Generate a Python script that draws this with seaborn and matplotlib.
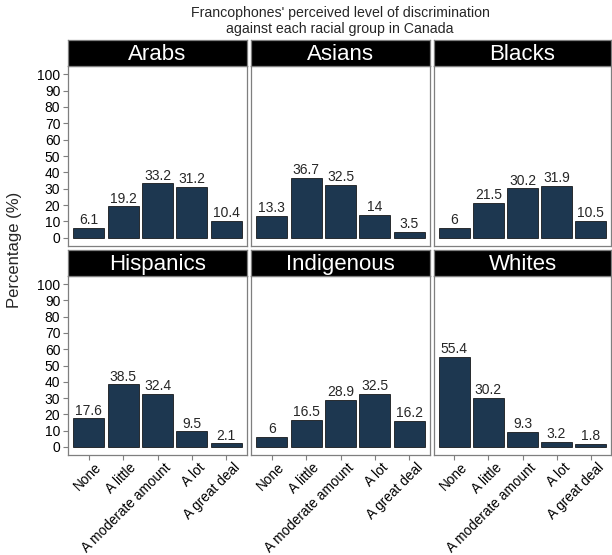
import matplotlib
matplotlib.use("Agg")
import matplotlib.pyplot as plt
import matplotlib.transforms as mtransforms
import pandas as pd
import seaborn as sns

# Data
groups = ["Arabs", "Asians", "Blacks", "Hispanics", "Indigenous", "Whites"]
levels = ["None", "A little", "A moderate amount", "A lot", "A great deal"]
arabs = [6.1, 19.2, 33.2, 31.2, 10.4]
asians = [13.3, 36.7, 32.5, 14, 3.5]
blacks = [6, 21.5, 30.2, 31.9, 10.5]
hispanics = [17.6, 38.5, 32.4, 9.5, 2.1]
indigenous = [6, 16.5, 28.9, 32.5, 16.2]
whites = [55.4, 30.2, 9.3, 3.2, 1.8]

values = [arabs, asians, blacks, hispanics, indigenous, whites]
rows = []
for g, vals in zip(groups, values):
    for lev, v in zip(levels, vals):
        rows.append({"group": g, "level": lev, "pct": v})
df = pd.DataFrame(rows)

sns.set_style("white")
plt.rcParams["font.family"] = ["Liberation Sans", "DejaVu Sans"]

W, H = 612, 555
fig = plt.figure(figsize=(W / 100, H / 100), dpi=100)

col_x = [(68, 247), (251, 430), (434, 611)]
row_y = [(40, 66, 246), (250, 276, 455)]  # strip top, axes top, axes bottom

bar_color = "#1d3750"
shift = mtransforms.ScaledTranslation(0.06, 0, fig.dpi_scale_trans)

for i, g in enumerate(groups):
    r, c = divmod(i, 3)
    x0, x1 = col_x[c]
    st, at, ab = row_y[r]
    ax = fig.add_axes([x0 / W, 1 - ab / H, (x1 - x0) / W, (ab - at) / H])
    sub = df[df["group"] == g]
    sns.barplot(data=sub, x="level", y="pct", order=levels, color=bar_color,
                width=0.9, edgecolor="black", linewidth=0.5, saturation=1, ax=ax)
    ax.set_xlim(-0.6, 4.6)
    ax.set_ylim(-5, 105)
    ax.set_yticks(range(0, 101, 10))
    ax.set_xlabel("")
    ax.set_ylabel("")
    for s in ax.spines.values():
        s.set_color("#7f7f7f")
        s.set_linewidth(0.9)
    ax.tick_params(axis="both", length=3.5, width=0.8, color="#7f7f7f",
                   labelsize=10, labelcolor="black", pad=2)
    if c != 0:
        ax.tick_params(axis="y", left=False, labelleft=False)
    else:
        ax.tick_params(axis="y", left=True)
    if r == 0:
        ax.tick_params(axis="x", bottom=False, labelbottom=False)
    else:
        ax.tick_params(axis="x", bottom=True, pad=0.5)
        ax.set_xticks(range(len(levels)))
        ax.set_xticklabels(levels, rotation=45, ha="right", va="top",
                           rotation_mode="anchor", fontsize=9.8)
        for lab in ax.get_xticklabels():
            lab.set_transform(lab.get_transform() + shift)
    for j, v in enumerate(sub["pct"]):
        ax.text(j, v + 0.4, f"{v:g}", ha="center", va="bottom", fontsize=10)
    # facet strip
    sax = fig.add_axes([x0 / W, 1 - at / H, (x1 - x0) / W, (at - st) / H])
    sax.set_facecolor("black")
    sax.set_xticks([])
    sax.set_yticks([])
    for s in sax.spines.values():
        s.set_color("#7f7f7f")
        s.set_linewidth(0.9)
    sax.text(0.5, 0.45, g, color="white", fontsize=16, ha="center", va="center",
             transform=sax.transAxes)

fig.text(340 / W, 1 - 21 / H,
         "Francophones' perceived level of discrimination\nagainst each racial group in Canada",
         ha="center", va="center", fontsize=10.2, linespacing=1.2)
fig.text(15 / W, 1 - 250 / H, "Percentage (%)", rotation=90, ha="center",
         va="center", fontsize=12)

fig.savefig("out.png", dpi=100)
